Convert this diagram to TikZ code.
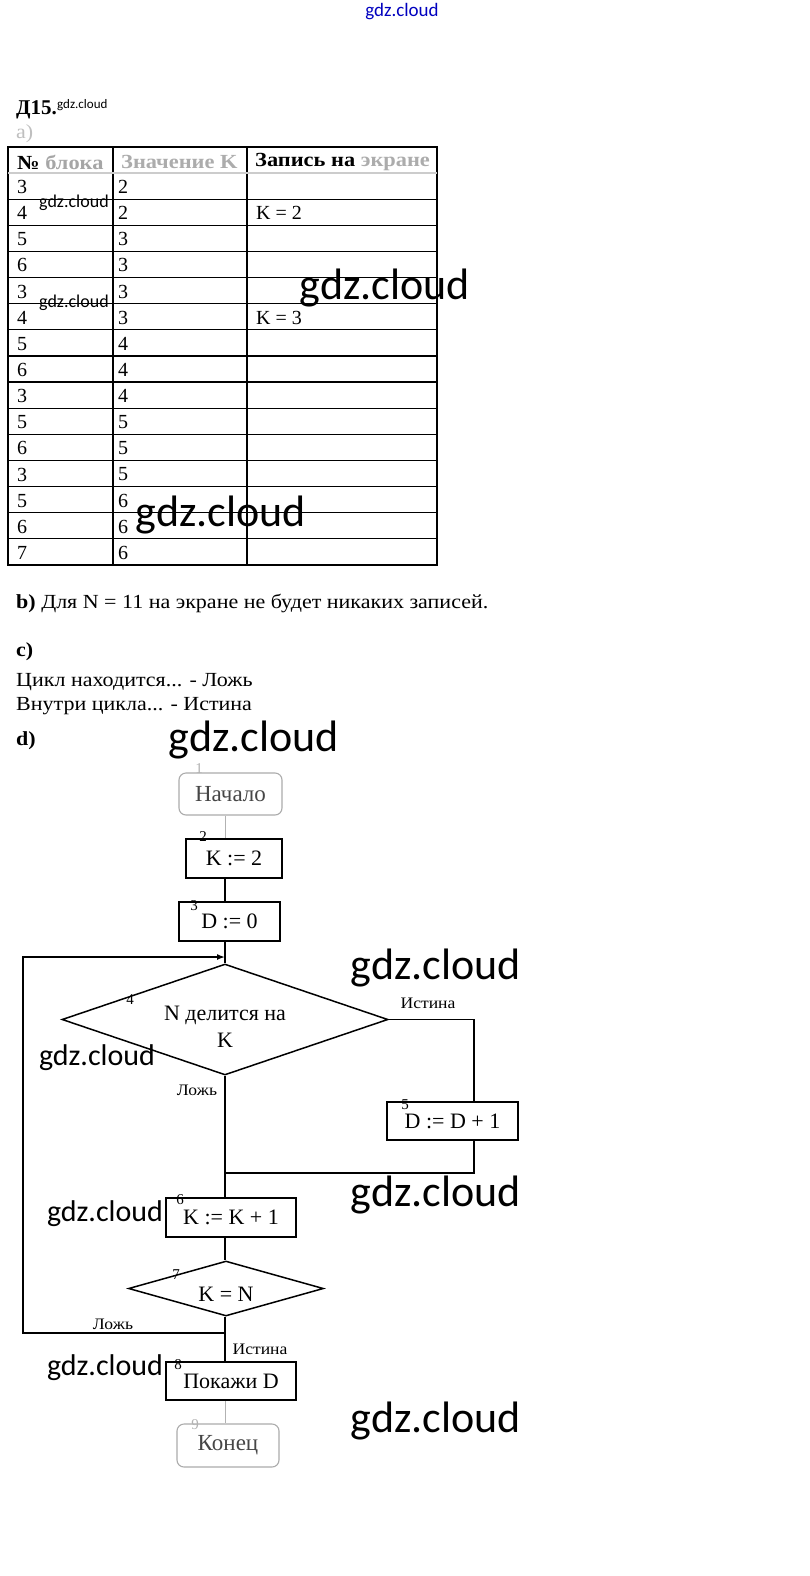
\documentclass[tikz,border=0pt]{standalone}
\usepackage{fontspec}
\setmainfont{Liberation Serif}
\newfontfamily\widefont[FakeStretch=1.1]{Liberation Serif}
\newfontfamily\hdfont[FakeStretch=1.12]{Liberation Serif}
\newfontfamily\wmfont{Carlito}
\usetikzlibrary{shapes.geometric,arrows.meta}
\begin{document}
\begin{tikzpicture}[x=1pt,y=-1pt,
  tab/.style={line width=1.2pt},
  proc/.style={draw=black, line width=1.5pt, inner sep=0pt, font=\fontsize{22}{27}\selectfont},
  term/.style={draw=gray!65, line width=1.1pt, inner sep=0pt, rounded corners=7pt, text=gray!55!black, font=\fontsize{23}{26}\selectfont},
  dec/.style={proc, diamond},
  conn/.style={line width=1.5pt},
  lbl/.style={inner sep=0pt, font=\widefont\fontsize{16}{18}\selectfont},
  num/.style={inner sep=0pt, font=\fontsize{15}{16}\selectfont},
  cell/.style={anchor=west, inner sep=0pt, font=\fontsize{20}{22}\selectfont},
  hcell/.style={anchor=west, inner sep=0pt, font=\hdfont\bfseries\fontsize{20}{22}\selectfont},
  para/.style={anchor=west, inner sep=0pt, font=\widefont\fontsize{20}{22}\selectfont},
  wmbig/.style={inner sep=0pt, font=\wmfont\fontsize{44}{48}\selectfont},
  wmmid/.style={inner sep=0pt, font=\wmfont\fontsize{30}{32}\selectfont},
  wmsmall/.style={inner sep=0pt, font=\wmfont\fontsize{18}{22}\selectfont}]
\useasboundingbox (0,0) rectangle (809,1576);
\fill[white] (0,0) rectangle (809,1576);

% heading
\node[wmsmall, text=blue!75!black, font=\wmfont\fontsize{19}{22}\selectfont] (wmtop) at (402,12) {gdz.cloud};
\node[anchor=west, inner sep=0pt, font=\bfseries\fontsize{21}{24}\selectfont] (title) at (16,110) {Д15.};
\node[anchor=south west, inner sep=0pt, font=\wmfont\fontsize{13}{14}\selectfont] (wmt) at (57,111) {gdz.cloud};
\node[para, text=gray!50] (pa) at (16,134) {а)};

% table
\draw[tab] (8,147) rectangle (437,565);
\draw[tab] (113,147) -- (113,565);
\draw[tab] (247,147) -- (247,565);
\draw[tab, gray!40] (8,173) -- (437,173);
\foreach \k in {1,...,14} \draw[tab] (8,{173+26.13*\k}) -- (437,{173+26.13*\k});
\node[hcell] (h1) at (17,162) {№ \textcolor{gray!70}{блока}};
\node[hcell, text=gray!65] (h2) at (121,162) {Значение K};
\node[hcell] (h3) at (255,162) {Запись на \textcolor{gray!65}{экране}};
\foreach \a/\b [count=\i] in {3/2,4/2,5/3,6/3,3/3,4/3,5/4,6/4,3/4,5/5,6/5,3/5,5/6,6/6,7/6} {
  \node[cell] (r\i a) at (17,{174+26.13*(\i-0.5)}) {\a};
  \node[cell] (r\i b) at (118,{174+26.13*(\i-0.5)}) {\b};
}
\node[cell] (r2c) at (256,{174+26.13*1.5}) {K = 2};
\node[cell] (r6c) at (256,{174+26.13*5.5}) {K = 3};

% text
\node[para] (pb) at (16,603) {\textbf{b)} Для N = 11 на экране не будет никаких записей.};
\node[para] (pc) at (16,652) {\textbf{c)}};
\node[para] (pc1) at (16,682) {Цикл находится... - Ложь};
\node[para] (pc2) at (16,706) {Внутри цикла... - Истина};
\node[para] (pd) at (16,741) {\textbf{d)}};

% flowchart
\coordinate (ax) at (225,0);
\node[term, minimum width=103pt, minimum height=42pt] (n1) at (230.5,794) {Начало};
\node[proc, minimum width=96pt, minimum height=39pt] (n2) at (234,858.5) {K := 2};
\node[proc, minimum width=101pt, minimum height=39pt] (n3) at (229.5,921.5) {D := 0};
\node[dec, aspect=2.94, minimum width=326pt, minimum height=111pt, align=center] (n4) at (225,1019.5) {\rule{0pt}{28pt}N делится на\\K};
\node[proc, minimum width=131pt, minimum height=38pt] (n5) at (452.5,1121) {D := D + 1};
\node[proc, minimum width=130pt, minimum height=39pt] (n6) at (231,1217.5) {K := K + 1};
\node[dec, aspect=3.5, minimum width=195pt, minimum height=55pt] (n7) at (226,1288.5) {\rule{0pt}{26pt}K = N};
\node[proc, minimum width=130pt, minimum height=38pt] (n8) at (231,1381) {Покажи D};
\node[term, minimum width=102pt, minimum height=43pt] (n9) at (228,1445.5) {Конец};

\coordinate (rt) at (474,1019.5);
\coordinate (mg) at (225,1173);
\coordinate (lp) at (225,1333);
\coordinate (lx) at (23,0);
\coordinate (lt) at (225,957);

\draw[gray!60, line width=1pt] (n1.south -| ax) -- (n2.north -| ax);
\draw[conn] (n2.south -| ax) -- (n3.north -| ax);
\draw[conn] (n3.south -| ax) -- (n4.north);
\draw[conn] (n4.east) -- (rt) -- (rt |- n5.north);
\draw[conn] (n4.south) -- (n6.north -| ax);
\draw[conn] (rt |- n5.south) -- (rt |- mg) -- (mg);
\draw[conn] (n6.south -| ax) -- (n7.north -| ax);
\draw[conn] (n7.south -| ax) -- (n8.north -| ax);
\draw[conn, -{Latex[length=8pt,width=6pt]}] (lp) -- (lp -| lx) -- (lx |- lt) -- (lt);
\draw[gray!60, line width=1pt] (n8.south -| ax) -- (n9.north -| ax);

% block numbers
\node[num, text=gray!60] (k1) at (199,769) {1};
\node[num] (k2) at (203,837) {2};
\node[num] (k3) at (194,906) {3};
\node[num] (k4) at (130,1000) {4};
\node[num] (k5) at (405,1105) {5};
\node[num] (k6) at (180,1200) {6};
\node[num] (k7) at (176,1275) {7};
\node[num] (k8) at (178,1365) {8};
\node[num, text=gray!60] (k9) at (195,1425) {9};

% branch labels
\node[lbl] (l1) at (428,1003) {Истина};
\node[lbl] (l2) at (197,1090) {Ложь};
\node[lbl] (l3) at (113,1324) {Ложь};
\node[lbl] (l4) at (260,1349) {Истина};

% watermarks
\node[wmsmall] (w10) at (74,203) {gdz.cloud};
\node[wmsmall] (w11) at (74,303) {gdz.cloud};
\node[wmbig] (w1) at (385,288) {gdz.cloud};
\node[wmbig] (w2) at (221,515) {gdz.cloud};
\node[wmbig] (w3) at (254,740) {gdz.cloud};
\node[wmbig] (w4) at (436,968) {gdz.cloud};
\node[wmmid] (w5) at (97,1058) {gdz.cloud};
\node[wmbig] (w6) at (436,1195) {gdz.cloud};
\node[wmmid] (w7) at (105,1214) {gdz.cloud};
\node[wmmid] (w8) at (105,1368) {gdz.cloud};
\node[wmbig] (w9) at (436,1421) {gdz.cloud};
\end{tikzpicture}
\end{document}
